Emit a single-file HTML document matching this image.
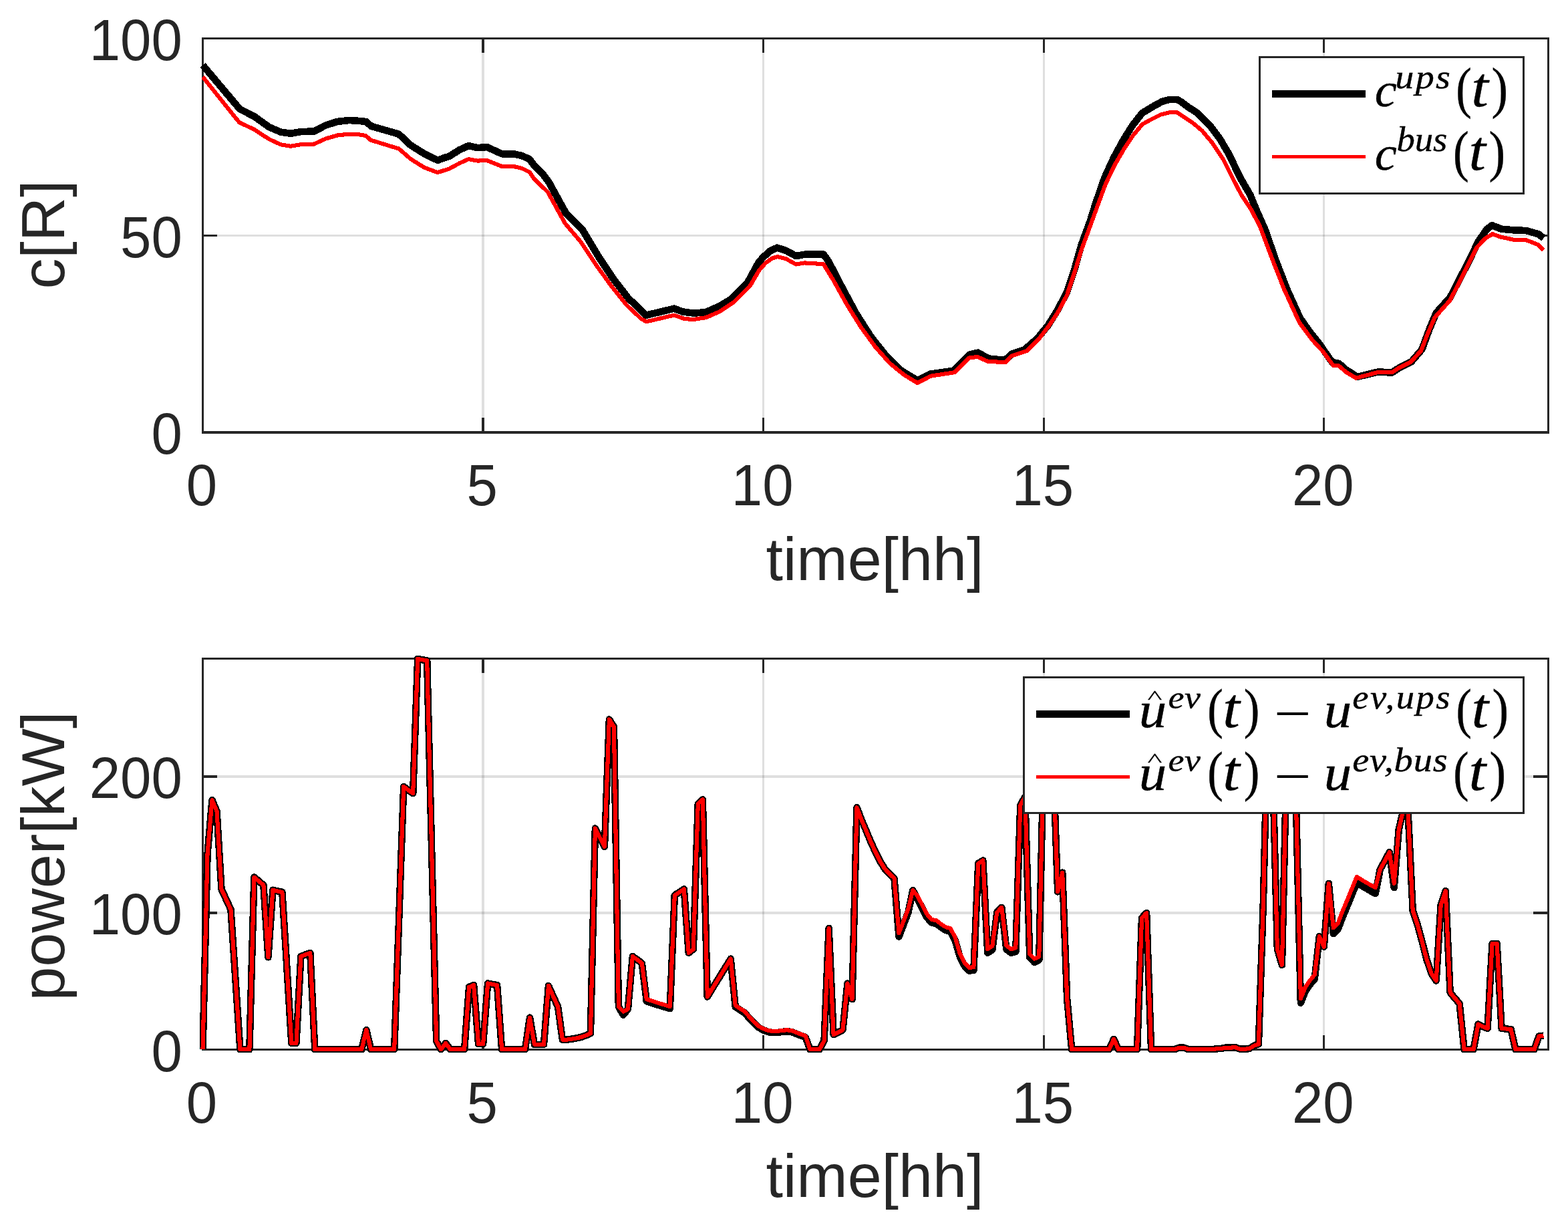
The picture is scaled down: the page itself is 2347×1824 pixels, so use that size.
<!DOCTYPE html>
<html lang="en"><head><meta charset="utf-8"><title>c[R] and power[kW] over time[hh]</title>
<style>html,body{margin:0;padding:0;background:#fff}svg{display:block}.tk{font-family:"Liberation Sans",Arial,Helvetica,sans-serif;font-size:83.33px;fill:#262626}.lb{font-family:"Liberation Sans",Arial,Helvetica,sans-serif;font-size:91.67px;fill:#262626}.mi{font-family:"Liberation Serif","DejaVu Serif",serif;font-style:italic}.mr{font-family:"Liberation Serif","DejaVu Serif",serif}</style></head><body>
<svg xmlns="http://www.w3.org/2000/svg" width="2347" height="1824" viewBox="0 0 2347 1824">
<rect x="0" y="0" width="2347" height="1824" fill="#fff"/>
<defs>
<clipPath id="clipT"><rect x="298.9" y="52.9" width="2023.2" height="598.7"/></clipPath>
<clipPath id="clipB"><rect x="298.9" y="980.9" width="2023.2" height="594.0"/></clipPath>
</defs>
<g id="top-axes">
<rect x="721" y="59" width="4" height="586" fill="#262626" fill-opacity="0.15"/>
<rect x="1141" y="59" width="3" height="586" fill="#262626" fill-opacity="0.15"/>
<rect x="1561" y="59" width="3" height="586" fill="#262626" fill-opacity="0.15"/>
<rect x="1980" y="59" width="3" height="586" fill="#262626" fill-opacity="0.15"/>
<rect x="305" y="351" width="2011" height="3" fill="#262626" fill-opacity="0.15"/>
<rect x="721" y="625" width="4" height="20" fill="#262626"/>
<rect x="721" y="59" width="4" height="20" fill="#262626"/>
<rect x="1141" y="625" width="3" height="20" fill="#262626"/>
<rect x="1141" y="59" width="3" height="20" fill="#262626"/>
<rect x="1561" y="625" width="3" height="20" fill="#262626"/>
<rect x="1561" y="59" width="3" height="20" fill="#262626"/>
<rect x="1980" y="625" width="3" height="20" fill="#262626"/>
<rect x="1980" y="59" width="3" height="20" fill="#262626"/>
<rect x="305" y="351" width="20" height="3" fill="#262626"/>
<rect x="2295" y="351" width="21" height="3" fill="#262626"/>
<rect x="302" y="56" width="2017" height="3" fill="#262626"/>
<rect x="302" y="645" width="2017" height="4" fill="#262626"/>
<rect x="302" y="56" width="3" height="593" fill="#262626"/>
<rect x="2316" y="56" width="3" height="593" fill="#262626"/>
<g clip-path="url(#clipT)">
<polyline points="303.5,97.5 358.8,163.1 380.9,174.4 402.5,190.0 420.0,197.5 435.0,199.8 450.0,197.1 470.0,196.5 487.5,187.5 505.0,181.9 522.5,180.0 538.8,181.0 548.1,182.1 555.6,188.8 596.9,200.6 615.0,217.5 635.0,230.0 655.0,239.8 665.0,236.2 672.5,233.8 687.5,224.4 701.2,218.1 715.0,221.2 728.8,220.0 751.2,230.2 768.8,230.2 781.2,233.1 792.5,238.1 799.4,247.5 813.0,261.2 821.1,271.8 847.2,319.2 871.9,343.9 896.6,385.1 918.6,418.1 940.3,446.0 967.1,471.7 1009.0,461.7 1022.0,466.5 1039.0,468.7 1056.8,466.9 1077.4,458.0 1095.2,447.0 1118.6,423.6 1135.1,393.4 1141.9,385.2 1152.9,375.5 1163.2,370.7 1176.3,374.9 1191.4,383.1 1203.7,380.8 1232.5,380.5 1240.0,390.7 1260.7,430.6 1281.3,469.0 1303.5,503.7 1325.8,531.7 1348.4,554.2 1373.2,569.2 1392.4,559.6 1427.4,554.7 1450.8,530.7 1463.8,527.7 1479.6,536.5 1504.3,539.0 1514.0,529.9 1533.7,523.1 1552.9,506.2 1568.4,487.3 1582.6,464.6 1596.6,438.1 1607.9,404.5 1618.8,366.0 1631.5,331.6 1639.6,305.7 1653.2,266.3 1666.8,236.5 1681.6,209.3 1695.1,187.7 1709.6,169.2 1726.4,159.0 1739.4,151.9 1751.1,148.8 1762.1,149.1 1767.6,152.1 1779.5,160.9 1793.0,169.6 1810.2,186.9 1826.2,208.2 1839.7,231.1 1856.0,265.3 1871.4,291.7 1880.6,314.4 1894.0,344.5 1909.7,390.0 1926.3,432.7 1945.9,475.9 1960.0,495.8 1975.1,515.0 1993.9,541.9 2004.2,544.0 2014.7,553.2 2031.7,563.9 2063.3,556.3 2083.2,557.7 2092.8,551.3 2112.7,541.1 2128.4,522.8 2139.8,491.8 2149.9,467.9 2170.7,444.9 2185.7,415.6 2196.3,395.6 2212.8,361.4 2225.3,343.2 2233.2,337.1 2247.3,342.7 2266.8,344.4 2284.4,345.0 2303.9,350.7 2310.4,356.6" fill="none" stroke="#000" stroke-width="10.6" stroke-linejoin="round" stroke-linecap="butt" shape-rendering="crispEdges"/>
<polyline points="303.5,115.0 358.1,183.1 380.6,193.8 402.5,208.1 420.0,216.2 435.0,218.8 450.0,216.2 470.0,215.6 487.5,207.5 505.0,202.5 522.5,200.6 538.8,201.5 547.5,203.1 555.0,209.7 596.9,222.5 615.0,238.1 635.0,250.6 655.0,258.1 672.5,252.5 687.5,244.4 701.2,238.1 715.0,240.6 728.8,240.0 751.2,249.0 768.8,249.0 781.2,251.9 792.5,257.5 799.4,267.5 820.0,287.5 845.8,334.3 869.2,361.8 893.9,398.8 915.9,429.1 937.9,456.5 959.8,477.1 967.5,481.3 1008.7,471.7 1025.2,477.2 1038.9,477.9 1056.8,475.1 1077.4,466.2 1098.0,452.5 1122.7,427.7 1136.4,404.4 1146.0,393.4 1155.7,386.5 1163.9,384.1 1176.3,387.2 1191.4,395.5 1203.7,393.4 1232.5,395.1 1247.3,419.2 1267.9,456.3 1288.5,489.2 1310.4,519.3 1332.1,543.8 1353.8,561.3 1373.2,573.0 1393.1,562.7 1428.8,557.2 1450.8,535.5 1463.1,533.9 1478.2,540.7 1505.0,542.3 1513.4,533.0 1536.7,525.1 1556.6,505.1 1570.1,487.4 1583.5,467.2 1597.1,441.4 1608.0,408.7 1619.0,373.0 1627.5,350.0 1641.2,312.3 1654.9,275.2 1668.7,246.4 1682.4,223.0 1696.2,202.4 1709.9,185.9 1723.6,178.4 1737.4,171.5 1751.1,168.1 1762.1,168.4 1771.7,174.9 1785.4,183.9 1799.2,195.5 1814.3,213.4 1830.8,238.1 1844.5,265.6 1858.2,291.7 1872.0,312.3 1885.9,338.7 1904.1,387.1 1921.8,432.3 1945.0,482.7 1964.0,508.4 1980.5,526.3 1996.0,547.4 2003.5,547.1 2015.6,557.3 2029.6,565.7 2063.3,556.8 2084.6,556.8 2092.1,551.5 2111.1,542.1 2126.8,525.2 2137.5,498.2 2147.6,475.0 2170.1,449.7 2184.3,422.6 2193.7,403.7 2210.2,370.7 2222.0,357.7 2233.8,350.1 2246.7,354.8 2266.8,358.9 2283.3,358.9 2302.1,366.0 2310.4,374.2" fill="none" stroke="#f00" stroke-width="6.1" stroke-linejoin="round" stroke-linecap="butt" shape-rendering="crispEdges"/>
</g></g>
<g id="bottom-axes">
<rect x="721" y="987" width="4" height="582" fill="#262626" fill-opacity="0.15"/>
<rect x="1141" y="987" width="3" height="582" fill="#262626" fill-opacity="0.15"/>
<rect x="1561" y="987" width="3" height="582" fill="#262626" fill-opacity="0.15"/>
<rect x="1980" y="987" width="3" height="582" fill="#262626" fill-opacity="0.15"/>
<rect x="305" y="1364" width="2011" height="4" fill="#262626" fill-opacity="0.15"/>
<rect x="305" y="1160" width="2011" height="4" fill="#262626" fill-opacity="0.15"/>
<rect x="721" y="1549" width="4" height="20" fill="#262626"/>
<rect x="721" y="987" width="4" height="20" fill="#262626"/>
<rect x="1141" y="1549" width="3" height="20" fill="#262626"/>
<rect x="1141" y="987" width="3" height="20" fill="#262626"/>
<rect x="1561" y="1549" width="3" height="20" fill="#262626"/>
<rect x="1561" y="987" width="3" height="20" fill="#262626"/>
<rect x="1980" y="1549" width="3" height="20" fill="#262626"/>
<rect x="1980" y="987" width="3" height="20" fill="#262626"/>
<rect x="305" y="1364" width="20" height="4" fill="#262626"/>
<rect x="2295" y="1364" width="21" height="4" fill="#262626"/>
<rect x="305" y="1160" width="20" height="4" fill="#262626"/>
<rect x="2295" y="1160" width="21" height="4" fill="#262626"/>
<rect x="302" y="984" width="2017" height="3" fill="#262626"/>
<rect x="302" y="1569" width="2017" height="3" fill="#262626"/>
<rect x="302" y="984" width="3" height="588" fill="#262626"/>
<rect x="2316" y="984" width="3" height="588" fill="#262626"/>
<g clip-path="url(#clipB)">
<polyline points="303.5,1570.3 310.5,1278.3 317.5,1197.2 324.5,1213.8 331.5,1330.6 338.5,1345.7 345.5,1361.0 352.5,1466.2 359.4,1570.3 366.4,1570.3 373.4,1570.3 380.4,1312.6 387.4,1318.5 394.4,1324.4 401.4,1432.3 408.4,1331.8 415.4,1333.4 422.4,1334.9 429.4,1447.8 436.4,1561.1 443.4,1561.1 450.4,1431.0 457.3,1428.4 464.3,1425.9 471.3,1570.3 478.3,1570.3 485.3,1570.3 492.3,1570.3 499.3,1570.3 506.3,1570.3 513.3,1570.3 520.3,1570.3 527.3,1570.3 534.3,1570.3 541.3,1570.3 548.3,1541.1 555.2,1570.3 562.2,1570.3 569.2,1570.3 576.2,1570.3 583.2,1570.3 590.2,1570.3 597.2,1374.3 604.2,1177.0 611.2,1182.3 618.2,1187.2 625.2,985.9 632.2,987.3 639.2,988.5 646.2,1274.2 653.2,1558.0 660.1,1570.3 667.1,1561.1 674.1,1570.3 681.1,1570.3 688.1,1570.3 695.1,1570.3 702.1,1477.0 709.1,1474.1 716.1,1562.1 723.1,1562.1 730.1,1471.5 737.1,1472.9 744.1,1474.1 751.1,1570.3 758.0,1570.3 765.0,1570.3 772.0,1570.3 779.0,1570.3 786.0,1570.3 793.0,1522.7 800.0,1562.9 807.0,1562.9 814.0,1562.9 821.0,1475.1 828.0,1490.7 835.0,1506.2 842.0,1555.6 849.0,1555.6 856.0,1554.6 862.9,1553.4 869.9,1551.9 876.9,1549.3 883.9,1546.4 890.9,1239.5 897.9,1253.2 904.9,1266.9 911.9,1076.5 918.9,1087.4 925.9,1506.2 932.9,1518.6 939.9,1509.9 946.9,1431.0 953.9,1436.1 960.8,1441.2 967.8,1498.2 974.8,1500.5 981.8,1502.7 988.8,1505.0 995.8,1507.0 1002.8,1509.2 1009.8,1339.6 1016.8,1335.1 1023.8,1330.4 1030.8,1425.7 1037.8,1420.2 1044.8,1202.7 1051.8,1196.4 1058.8,1491.5 1065.7,1480.0 1072.7,1468.8 1079.7,1457.4 1086.7,1446.1 1093.7,1434.7 1100.7,1506.4 1107.7,1511.1 1114.7,1515.6 1121.7,1523.7 1128.7,1531.1 1135.7,1537.6 1142.7,1541.3 1149.7,1544.0 1156.7,1545.2 1163.6,1545.0 1170.6,1544.0 1177.6,1543.3 1184.6,1544.0 1191.6,1546.8 1198.6,1549.5 1205.6,1552.1 1212.6,1570.3 1219.6,1570.3 1226.6,1570.3 1233.6,1557.4 1240.6,1389.0 1247.6,1548.2 1254.6,1544.8 1261.5,1541.1 1268.5,1471.5 1275.5,1495.2 1282.5,1208.3 1289.5,1226.6 1296.5,1243.0 1303.5,1259.9 1310.5,1275.0 1317.5,1289.1 1324.5,1300.1 1331.5,1307.5 1338.5,1314.0 1345.5,1401.4 1352.5,1383.3 1359.5,1364.9 1366.4,1332.2 1373.4,1345.3 1380.4,1359.0 1387.4,1372.6 1394.4,1380.6 1401.4,1381.8 1408.4,1387.3 1415.4,1391.8 1422.4,1393.7 1429.4,1406.5 1436.4,1430.4 1443.4,1444.9 1450.4,1452.5 1457.4,1451.9 1464.3,1292.0 1471.3,1287.5 1478.3,1425.7 1485.3,1421.0 1492.3,1365.1 1499.3,1357.9 1506.3,1420.2 1513.3,1425.7 1520.3,1423.9 1527.3,1204.8 1534.3,1192.5 1541.3,1432.7 1548.3,1439.8 1555.3,1436.3 1562.2,1121.1 1569.2,1117.0 1576.2,1133.3 1583.2,1334.4 1590.2,1305.7 1597.2,1494.7 1604.2,1570.3 1611.2,1570.3 1618.2,1570.3 1625.2,1570.3 1632.2,1570.3 1639.2,1570.3 1646.2,1570.3 1653.2,1570.3 1660.2,1570.3 1667.1,1554.8 1674.1,1570.3 1681.1,1570.3 1688.1,1570.3 1695.1,1570.3 1702.1,1570.3 1709.1,1373.5 1716.1,1366.1 1723.1,1570.3 1730.1,1570.3 1737.1,1570.3 1744.1,1570.3 1751.1,1570.3 1758.1,1570.3 1765.0,1567.6 1772.0,1567.6 1779.0,1570.3 1786.0,1570.3 1793.0,1570.3 1800.0,1570.3 1807.0,1570.3 1814.0,1570.3 1821.0,1569.3 1828.0,1568.9 1835.0,1567.6 1842.0,1567.6 1849.0,1567.2 1856.0,1569.7 1863.0,1569.7 1869.9,1569.1 1876.9,1564.8 1883.9,1562.1 1890.9,1349.8 1897.9,1059.8 1904.9,1147.6 1911.9,1420.2 1918.9,1443.9 1925.9,1129.2 1932.9,1129.2 1939.9,1198.7 1946.9,1500.5 1953.9,1483.1 1960.9,1472.9 1967.8,1464.7 1974.8,1401.2 1981.8,1416.7 1988.8,1322.0 1995.8,1397.1 2002.8,1390.0 2009.8,1371.6 2016.8,1354.9 2023.8,1337.9 2030.8,1320.6 2037.8,1325.1 2044.8,1329.1 2051.8,1333.2 2058.8,1336.9 2065.8,1300.8 2072.7,1288.5 2079.7,1275.2 2086.7,1328.1 2093.7,1241.5 2100.7,1210.9 2107.7,1217.0 2114.7,1362.6 2121.7,1383.5 2128.7,1409.2 2135.7,1436.5 2142.7,1456.8 2149.7,1467.4 2156.7,1353.8 2163.7,1333.2 2170.6,1485.1 2177.6,1493.7 2184.6,1501.5 2191.6,1570.3 2198.6,1570.3 2205.6,1570.3 2212.6,1532.5 2219.6,1536.2 2226.6,1538.9 2233.6,1411.8 2240.6,1411.8 2247.6,1538.9 2254.6,1539.5 2261.6,1540.1 2268.5,1570.3 2275.5,1570.3 2282.5,1570.3 2289.5,1570.3 2296.5,1570.3 2303.5,1550.5 2310.5,1549.7" fill="none" stroke="#000" stroke-width="10.6" stroke-linejoin="round" stroke-linecap="butt" shape-rendering="crispEdges"/>
<polyline points="303.5,1570.3 310.5,1278.3 317.5,1197.2 324.5,1213.8 331.5,1330.6 338.5,1345.7 345.5,1361.0 352.5,1466.2 359.4,1570.3 366.4,1570.3 373.4,1570.3 380.4,1312.6 387.4,1318.5 394.4,1324.4 401.4,1432.3 408.4,1331.8 415.4,1333.4 422.4,1334.9 429.4,1447.8 436.4,1561.1 443.4,1561.1 450.4,1431.0 457.3,1428.4 464.3,1425.9 471.3,1570.3 478.3,1570.3 485.3,1570.3 492.3,1570.3 499.3,1570.3 506.3,1570.3 513.3,1570.3 520.3,1570.3 527.3,1570.3 534.3,1570.3 541.3,1570.3 548.3,1541.1 555.2,1570.3 562.2,1570.3 569.2,1570.3 576.2,1570.3 583.2,1570.3 590.2,1570.3 597.2,1374.3 604.2,1177.0 611.2,1182.3 618.2,1187.2 625.2,985.9 632.2,987.3 639.2,988.5 646.2,1274.2 653.2,1558.0 660.1,1570.3 667.1,1561.1 674.1,1570.3 681.1,1570.3 688.1,1570.3 695.1,1570.3 702.1,1477.0 709.1,1474.1 716.1,1562.1 723.1,1562.1 730.1,1471.5 737.1,1472.9 744.1,1474.1 751.1,1570.3 758.0,1570.3 765.0,1570.3 772.0,1570.3 779.0,1570.3 786.0,1570.3 793.0,1522.7 800.0,1562.9 807.0,1562.9 814.0,1562.9 821.0,1475.1 828.0,1490.7 835.0,1506.2 842.0,1555.6 849.0,1555.6 856.0,1554.6 862.9,1553.4 869.9,1551.9 876.9,1549.3 883.9,1546.4 890.9,1239.5 897.9,1253.2 904.9,1266.9 911.9,1076.5 918.9,1087.4 925.9,1506.2 932.9,1513.5 939.9,1509.9 946.9,1431.0 953.9,1436.1 960.8,1441.2 967.8,1495.2 974.8,1497.4 981.8,1499.6 988.8,1501.9 995.8,1503.9 1002.8,1506.2 1009.8,1339.6 1016.8,1335.1 1023.8,1330.4 1030.8,1425.7 1037.8,1420.2 1044.8,1202.7 1051.8,1196.4 1058.8,1491.5 1065.7,1480.0 1072.7,1468.8 1079.7,1457.4 1086.7,1446.1 1093.7,1434.7 1100.7,1504.3 1107.7,1509.0 1114.7,1513.5 1121.7,1521.7 1128.7,1529.1 1135.7,1535.6 1142.7,1539.3 1149.7,1541.9 1156.7,1543.1 1163.6,1542.9 1170.6,1541.9 1177.6,1541.3 1184.6,1541.9 1191.6,1544.8 1198.6,1547.4 1205.6,1550.1 1212.6,1570.3 1219.6,1570.3 1226.6,1570.3 1233.6,1557.4 1240.6,1389.0 1247.6,1548.2 1254.6,1544.8 1261.5,1541.1 1268.5,1471.5 1275.5,1495.2 1282.5,1208.3 1289.5,1226.6 1296.5,1243.0 1303.5,1259.9 1310.5,1275.0 1317.5,1289.1 1324.5,1300.1 1331.5,1307.5 1338.5,1314.0 1345.5,1396.3 1352.5,1378.1 1359.5,1359.8 1366.4,1332.2 1373.4,1340.6 1380.4,1354.3 1387.4,1367.9 1394.4,1375.9 1401.4,1377.1 1408.4,1382.6 1415.4,1387.1 1422.4,1389.0 1429.4,1401.8 1436.4,1425.7 1443.4,1440.2 1450.4,1447.8 1457.4,1447.2 1464.3,1292.0 1471.3,1287.5 1478.3,1420.2 1485.3,1415.5 1492.3,1365.1 1499.3,1357.9 1506.3,1414.7 1513.3,1420.2 1520.3,1418.4 1527.3,1204.8 1534.3,1192.5 1541.3,1427.6 1548.3,1434.7 1555.3,1431.2 1562.2,1121.1 1569.2,1117.0 1576.2,1133.3 1583.2,1334.4 1590.2,1305.7 1597.2,1494.7 1604.2,1570.3 1611.2,1570.3 1618.2,1570.3 1625.2,1570.3 1632.2,1570.3 1639.2,1570.3 1646.2,1570.3 1653.2,1570.3 1660.2,1570.3 1667.1,1554.8 1674.1,1570.3 1681.1,1570.3 1688.1,1570.3 1695.1,1570.3 1702.1,1570.3 1709.1,1373.5 1716.1,1366.1 1723.1,1570.3 1730.1,1570.3 1737.1,1570.3 1744.1,1570.3 1751.1,1570.3 1758.1,1570.3 1765.0,1567.6 1772.0,1567.6 1779.0,1570.3 1786.0,1570.3 1793.0,1570.3 1800.0,1570.3 1807.0,1570.3 1814.0,1570.3 1821.0,1569.3 1828.0,1568.9 1835.0,1567.6 1842.0,1567.6 1849.0,1567.2 1856.0,1569.7 1863.0,1569.7 1869.9,1569.1 1876.9,1564.8 1883.9,1562.1 1890.9,1349.8 1897.9,1059.8 1904.9,1147.6 1911.9,1420.2 1918.9,1443.9 1925.9,1129.2 1932.9,1129.2 1939.9,1198.7 1946.9,1494.3 1953.9,1477.0 1960.9,1466.8 1967.8,1458.6 1974.8,1401.2 1981.8,1416.7 1988.8,1322.0 1995.8,1388.4 2002.8,1381.2 2009.8,1362.8 2016.8,1346.1 2023.8,1329.1 2030.8,1311.8 2037.8,1316.3 2044.8,1320.4 2051.8,1324.4 2058.8,1328.1 2065.8,1300.8 2072.7,1288.5 2079.7,1275.2 2086.7,1322.0 2093.7,1241.5 2100.7,1210.9 2107.7,1217.0 2114.7,1362.6 2121.7,1383.5 2128.7,1409.2 2135.7,1436.5 2142.7,1456.8 2149.7,1467.4 2156.7,1353.8 2163.7,1333.2 2170.6,1485.1 2177.6,1493.7 2184.6,1501.5 2191.6,1570.3 2198.6,1570.3 2205.6,1570.3 2212.6,1532.5 2219.6,1536.2 2226.6,1538.9 2233.6,1411.8 2240.6,1411.8 2247.6,1538.9 2254.6,1539.5 2261.6,1540.1 2268.5,1570.3 2275.5,1570.3 2282.5,1570.3 2289.5,1570.3 2296.5,1570.3 2303.5,1550.5 2310.5,1549.7" fill="none" stroke="#f00" stroke-width="6.1" stroke-linejoin="round" stroke-linecap="butt" shape-rendering="crispEdges"/>
</g></g>
<g id="tick-labels">
<text class="tk" transform="translate(302.00,755.70) scale(1,1.035)" text-anchor="middle">0</text>
<text class="tk" transform="translate(302.00,1679.70) scale(1,1.035)" text-anchor="middle">0</text>
<text class="tk" transform="translate(721.58,755.70) scale(1,1.035)" text-anchor="middle">5</text>
<text class="tk" transform="translate(721.58,1679.70) scale(1,1.035)" text-anchor="middle">5</text>
<text class="tk" transform="translate(1141.17,755.70) scale(1,1.035)" text-anchor="middle">10</text>
<text class="tk" transform="translate(1141.17,1679.70) scale(1,1.035)" text-anchor="middle">10</text>
<text class="tk" transform="translate(1560.75,755.70) scale(1,1.035)" text-anchor="middle">15</text>
<text class="tk" transform="translate(1560.75,1679.70) scale(1,1.035)" text-anchor="middle">15</text>
<text class="tk" transform="translate(1980.33,755.70) scale(1,1.035)" text-anchor="middle">20</text>
<text class="tk" transform="translate(1980.33,1679.70) scale(1,1.035)" text-anchor="middle">20</text>
<text class="tk" transform="translate(272.80,679.30) scale(1,1.035)" text-anchor="end">0</text>
<text class="tk" transform="translate(272.80,384.55) scale(1,1.035)" text-anchor="end">50</text>
<text class="tk" transform="translate(272.80,89.80) scale(1,1.035)" text-anchor="end">100</text>
<text class="tk" transform="translate(272.80,1602.60) scale(1,1.035)" text-anchor="end">0</text>
<text class="tk" transform="translate(272.80,1398.40) scale(1,1.035)" text-anchor="end">100</text>
<text class="tk" transform="translate(272.80,1194.20) scale(1,1.035)" text-anchor="end">200</text>
</g>
<g id="axis-labels">
<text class="lb" x="1309.5" y="868" text-anchor="middle">time[hh]</text>
<text class="lb" x="1309.5" y="1791" text-anchor="middle">time[hh]</text>
<text class="lb" transform="translate(96,351) rotate(-90)" text-anchor="middle">c[R]</text>
<text class="lb" transform="translate(96,1281) rotate(-90)" text-anchor="middle">power[kW]</text>
</g>
<g id="legend-top">
<rect x="1884" y="84" width="398" height="207" fill="#262626"/>
<rect x="1887" y="87" width="392" height="201" fill="#fff"/>
<rect x="1904" y="135" width="140" height="11" fill="#000"/>
<rect x="1904" y="232" width="140" height="5" fill="#f00"/>
<text class="mi" transform="matrix(0.3728 0 0 0.3625 2057.66 159.28)" font-size="200" fill="#000" stroke="#000" stroke-width="1.1" stroke-linejoin="round">c</text>
<text class="mi" transform="matrix(0.2807 0 0 0.2547 2088.27 131.80)" font-size="200" fill="#000" stroke="#000" stroke-width="1.6" stroke-linejoin="round" style="letter-spacing:8.3px">ups</text>
<text class="mr" transform="matrix(0.3547 0 0 0.4181 2179.16 160.02)" font-size="200" fill="#000" stroke="#000" stroke-width="0.9" stroke-linejoin="round">(</text>
<text class="mi" transform="matrix(0.4596 0 0 0.4183 2202.22 159.16)" font-size="200" fill="#000" stroke="#000" stroke-width="0.9" stroke-linejoin="round">t</text>
<text class="mr" transform="matrix(0.3692 0 0 0.4181 2232.58 160.02)" font-size="200" fill="#000" stroke="#000" stroke-width="0.9" stroke-linejoin="round">)</text>
<text class="mi" transform="matrix(0.3728 0 0 0.3625 2057.66 253.78)" font-size="200" fill="#000" stroke="#000" stroke-width="1.1" stroke-linejoin="round">c</text>
<text class="mi" transform="matrix(0.2736 0 0 0.2626 2090.38 226.40)" font-size="200" fill="#000" stroke="#000" stroke-width="1.5" stroke-linejoin="round">bus</text>
<text class="mr" transform="matrix(0.3566 0 0 0.4181 2175.05 254.52)" font-size="200" fill="#000" stroke="#000" stroke-width="0.9" stroke-linejoin="round">(</text>
<text class="mi" transform="matrix(0.4558 0 0 0.4183 2198.45 253.66)" font-size="200" fill="#000" stroke="#000" stroke-width="0.9" stroke-linejoin="round">t</text>
<text class="mr" transform="matrix(0.3692 0 0 0.4181 2228.58 254.52)" font-size="200" fill="#000" stroke="#000" stroke-width="0.9" stroke-linejoin="round">)</text>
</g>
<g id="legend-bottom">
<rect x="1531" y="1012" width="751" height="206" fill="#262626"/>
<rect x="1534" y="1015" width="745" height="200" fill="#fff"/>
<rect x="1551" y="1063" width="140" height="11" fill="#000"/>
<rect x="1551" y="1160" width="140" height="5" fill="#f00"/>
<text class="mi" transform="matrix(0.4154 0 0 0.3777 1704.86 1087.74)" font-size="200" fill="#000" stroke="#000" stroke-width="1.1" stroke-linejoin="round">u</text>
<text class="mr" transform="matrix(0.2289 0 0 0.1394 1717.74 1051.96)" font-size="200" fill="#000" stroke="#000" stroke-width="2.1" stroke-linejoin="round">^</text>
<text class="mi" transform="matrix(0.2703 0 0 0.2459 1748.45 1059.56)" font-size="200" fill="#000" stroke="#000" stroke-width="1.6" stroke-linejoin="round" style="letter-spacing:1.9px">ev</text>
<text class="mr" transform="matrix(0.3547 0 0 0.4176 1807.36 1087.94)" font-size="200" fill="#000" stroke="#000" stroke-width="0.9" stroke-linejoin="round">(</text>
<text class="mi" transform="matrix(0.4596 0 0 0.4226 1830.32 1087.65)" font-size="200" fill="#000" stroke="#000" stroke-width="0.9" stroke-linejoin="round">t</text>
<text class="mr" transform="matrix(0.3558 0 0 0.4176 1861.67 1087.94)" font-size="200" fill="#000" stroke="#000" stroke-width="0.9" stroke-linejoin="round">)</text>
<text class="mr" transform="matrix(0.4957 0 0 0.4100 1906.84 1095.11)" font-size="200" fill="#000">−</text>
<text class="mi" transform="matrix(0.4154 0 0 0.3777 1981.76 1087.74)" font-size="200" fill="#000" stroke="#000" stroke-width="1.1" stroke-linejoin="round">u</text>
<text class="mi" transform="matrix(0.2730 0 0 0.2484 2024.23 1059.80)" font-size="200" fill="#000" stroke="#000" stroke-width="1.6" stroke-linejoin="round" style="letter-spacing:9.1px">ev,ups</text>
<text class="mr" transform="matrix(0.3509 0 0 0.4176 2179.39 1087.94)" font-size="200" fill="#000" stroke="#000" stroke-width="0.9" stroke-linejoin="round">(</text>
<text class="mi" transform="matrix(0.4615 0 0 0.4226 2202.61 1087.65)" font-size="200" fill="#000" stroke="#000" stroke-width="0.9" stroke-linejoin="round">t</text>
<text class="mr" transform="matrix(0.3692 0 0 0.4176 2233.58 1087.94)" font-size="200" fill="#000" stroke="#000" stroke-width="0.9" stroke-linejoin="round">)</text>
<text class="mi" transform="matrix(0.4154 0 0 0.3777 1704.86 1181.84)" font-size="200" fill="#000" stroke="#000" stroke-width="1.1" stroke-linejoin="round">u</text>
<text class="mr" transform="matrix(0.2289 0 0 0.1394 1717.74 1146.06)" font-size="200" fill="#000" stroke="#000" stroke-width="2.1" stroke-linejoin="round">^</text>
<text class="mi" transform="matrix(0.2703 0 0 0.2459 1748.45 1153.66)" font-size="200" fill="#000" stroke="#000" stroke-width="1.6" stroke-linejoin="round" style="letter-spacing:1.9px">ev</text>
<text class="mr" transform="matrix(0.3547 0 0 0.4176 1807.36 1182.04)" font-size="200" fill="#000" stroke="#000" stroke-width="0.9" stroke-linejoin="round">(</text>
<text class="mi" transform="matrix(0.4596 0 0 0.4226 1830.32 1181.75)" font-size="200" fill="#000" stroke="#000" stroke-width="0.9" stroke-linejoin="round">t</text>
<text class="mr" transform="matrix(0.3558 0 0 0.4176 1861.67 1182.04)" font-size="200" fill="#000" stroke="#000" stroke-width="0.9" stroke-linejoin="round">)</text>
<text class="mr" transform="matrix(0.4957 0 0 0.4100 1906.84 1189.21)" font-size="200" fill="#000">−</text>
<text class="mi" transform="matrix(0.4154 0 0 0.3777 1981.76 1181.84)" font-size="200" fill="#000" stroke="#000" stroke-width="1.1" stroke-linejoin="round">u</text>
<text class="mi" transform="matrix(0.2824 0 0 0.2568 2024.19 1153.90)" font-size="200" fill="#000" stroke="#000" stroke-width="1.5" stroke-linejoin="round" style="letter-spacing:2.8px">ev,bus</text>
<text class="mr" transform="matrix(0.3491 0 0 0.4176 2175.31 1182.04)" font-size="200" fill="#000" stroke="#000" stroke-width="0.9" stroke-linejoin="round">(</text>
<text class="mi" transform="matrix(0.4635 0 0 0.4226 2198.39 1181.75)" font-size="200" fill="#000" stroke="#000" stroke-width="0.9" stroke-linejoin="round">t</text>
<text class="mr" transform="matrix(0.3692 0 0 0.4176 2229.48 1182.04)" font-size="200" fill="#000" stroke="#000" stroke-width="0.9" stroke-linejoin="round">)</text>
</g>
</svg></body></html>
